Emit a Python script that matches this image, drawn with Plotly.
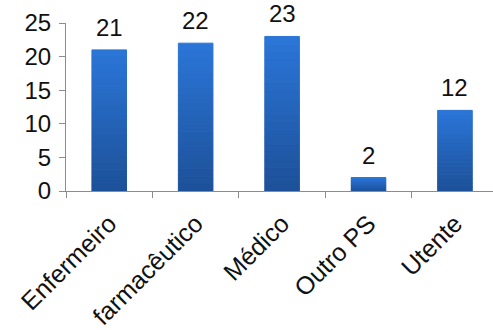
import plotly.graph_objects as go

categories = ["Enfermeiro", "farmacêutico", "Médico", "Outro PS", "Utente"]
values = [21, 22, 23, 2, 12]
y_ticks = [0, 5, 10, 15, 20, 25]

# vertical shading of the bars: dark blue at the base, brighter toward the top
n_steps = 20
dark = (29, 80, 152)
light = (43, 118, 216)

fig = go.Figure()
for i in range(n_steps):
    t = (i + 0.5) / n_steps
    col = "rgb({},{},{})".format(*[round(d + (l - d) * t) for d, l in zip(dark, light)])
    fig.add_trace(go.Bar(
        x=categories,
        y=[v / n_steps for v in values],
        base=[v * i / n_steps for v in values],
        width=0.4,
        marker=dict(color=col, line=dict(width=1, color=col)),
        hoverinfo="skip",
        showlegend=False,
        cliponaxis=False,
    ))

# value labels above each bar
for c, v in zip(categories, values):
    fig.add_annotation(
        x=c, y=v, text=str(v), showarrow=False,
        yanchor="bottom", yshift=7,
        font=dict(family="Liberation Sans, Arial", size=24, color="#111"),
    )

fig.update_layout(
    width=493, height=330,
    margin=dict(l=66, r=0, t=23, b=137),
    paper_bgcolor="white", plot_bgcolor="white",
    barmode="overlay",
    font=dict(family="Liberation Sans, Arial", size=24, color="#111"),
    xaxis=dict(
        type="category",
        range=[-0.5, 4.44],
        showline=True, linecolor="#8c8c8c", linewidth=1,
        ticks="outside", tickson="boundaries", ticklen=6, tickcolor="#8c8c8c",
        tickangle=-45,
        ticklabelstandoff=7,
        showgrid=False,
        tickfont=dict(size=25),
    ),
    yaxis=dict(
        range=[0, 25],
        tickvals=y_ticks,
        showline=True, linecolor="#8c8c8c", linewidth=1,
        ticks="outside", ticklen=6, tickcolor="#8c8c8c",
        ticklabelstandoff=3,
        showgrid=False, zeroline=False,
        tickfont=dict(size=24),
    ),
)

fig.write_html("out.html")
